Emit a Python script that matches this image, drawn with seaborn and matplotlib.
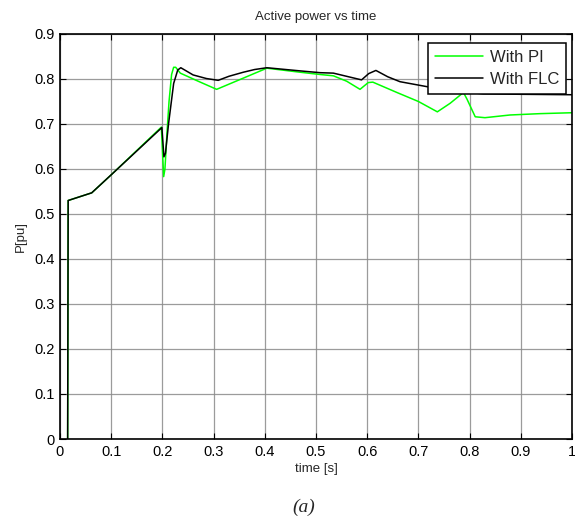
import numpy as np
import pandas as pd
import matplotlib
matplotlib.use("Agg")
import matplotlib.pyplot as plt
import seaborn as sns

# Active power response with the PI controller
t_pi = [0.015, 0.016, 0.062, 0.100, 0.198, 0.2025, 0.205, 0.209, 0.213, 0.218,
        0.222, 0.226, 0.235, 0.270, 0.306, 0.352, 0.404, 0.469, 0.508, 0.534,
        0.560, 0.586, 0.602, 0.611, 0.658, 0.700, 0.737, 0.762, 0.788, 0.795,
        0.811, 0.830, 0.879, 0.938, 1.000]
p_pi = [0.000, 0.530, 0.547, 0.587, 0.693, 0.583, 0.600, 0.680, 0.750, 0.810,
        0.826, 0.826, 0.813, 0.795, 0.777, 0.799, 0.824, 0.815, 0.810, 0.807,
        0.795, 0.777, 0.792, 0.793, 0.770, 0.750, 0.727, 0.746, 0.770, 0.755,
        0.716, 0.714, 0.720, 0.723, 0.725]

# Active power response with the fuzzy logic controller
t_flc = [0.015, 0.016, 0.062, 0.100, 0.199, 0.201, 0.203, 0.206, 0.212, 0.222,
         0.230, 0.236, 0.245, 0.260, 0.286, 0.309, 0.330, 0.358, 0.380, 0.404,
         0.469, 0.508, 0.534, 0.589, 0.603, 0.617, 0.640, 0.664, 0.726, 0.800,
         0.826, 0.900, 1.000]
p_flc = [0.000, 0.530, 0.547, 0.587, 0.692, 0.660, 0.627, 0.635, 0.700, 0.790,
         0.820, 0.825, 0.819, 0.809, 0.801, 0.797, 0.806, 0.815, 0.821, 0.825,
         0.818, 0.814, 0.813, 0.798, 0.812, 0.819, 0.805, 0.794, 0.781, 0.770,
         0.767, 0.766, 0.765]

x_ticks = [0, 0.1, 0.2, 0.3, 0.4, 0.5, 0.6, 0.7, 0.8, 0.9, 1]
x_tick_labels = ["0", "0.1", "0.2", "0.3", "0.4", "0.5", "0.6", "0.7", "0.8", "0.9", "1"]
y_ticks = [0, 0.1, 0.2, 0.3, 0.4, 0.5, 0.6, 0.7, 0.8, 0.9]
y_tick_labels = ["0", "0.1", "0.2", "0.3", "0.4", "0.5", "0.6", "0.7", "0.8", "0.9"]

df = pd.concat([
    pd.DataFrame({"t": t_pi, "P": p_pi, "ctrl": "With PI"}),
    pd.DataFrame({"t": t_flc, "P": p_flc, "ctrl": "With FLC"}),
], ignore_index=True)

sns.set_theme(style="ticks")
plt.rcParams["font.family"] = ["Liberation Sans", "DejaVu Sans"]

fig = plt.figure(figsize=(5.75, 5.22), dpi=100)
ax = fig.add_axes([0.1043, 0.159, 0.8905, 0.7759])

sns.lineplot(data=df, x="t", y="P", hue="ctrl", estimator=None, sort=False,
             palette={"With PI": "#00ff00", "With FLC": "black"},
             hue_order=["With PI", "With FLC"], linewidth=1.1, ax=ax)

ax.set_xlim(0, 1)
ax.set_ylim(0, 0.9)
ax.set_xticks(x_ticks)
ax.set_xticklabels(x_tick_labels)
ax.set_yticks(y_ticks)
ax.set_yticklabels(y_tick_labels)
ax.grid(True, color="#8a8a8a", linewidth=0.9, alpha=0.85)
ax.set_axisbelow(True)
ax.tick_params(direction="in", length=4, width=0.8, top=True, right=True,
               labelsize=10.5, colors="black", pad=4)
for s in ax.spines.values():
    s.set_color("black")
    s.set_linewidth(1.2)

ax.set_title("Active power vs time", fontsize=9.5, pad=10)
ax.set_xlabel("time [s]", fontsize=9.5, labelpad=3)
ax.set_ylabel("P[pu]", fontsize=9.5, labelpad=5)

leg = ax.legend(loc="upper right", bbox_to_anchor=(0.988, 0.978), borderaxespad=0,
                fancybox=False, framealpha=1, edgecolor="black", fontsize=12,
                handlelength=2.9, borderpad=0.4, labelspacing=0.45, handletextpad=0.4)
leg.get_frame().set_linewidth(1.1)

fig.text(0.528, 0.012, "(a)", fontsize=14, style="italic",
         family=["Liberation Serif", "DejaVu Serif"], ha="center", va="bottom")

fig.savefig("out.png", dpi=100)
